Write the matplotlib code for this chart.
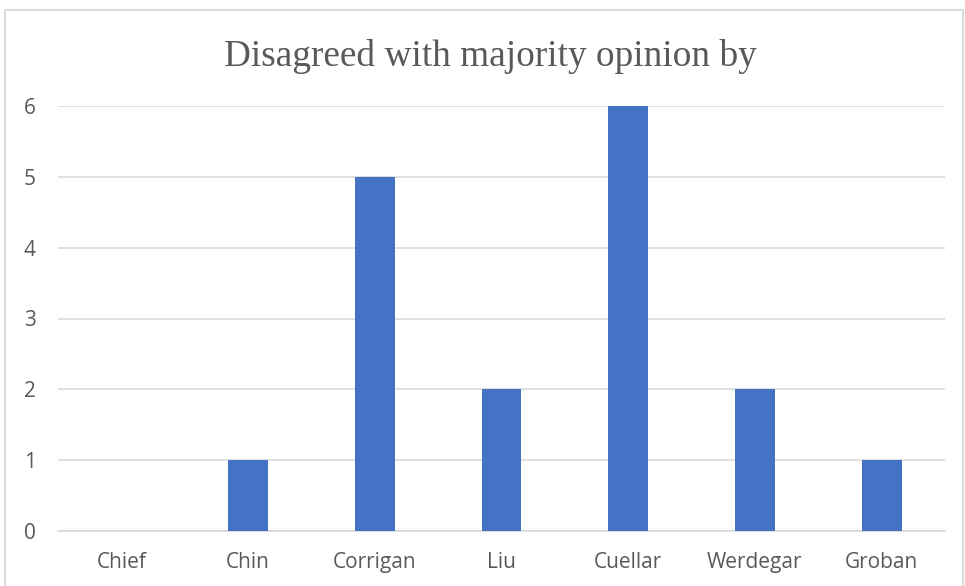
import matplotlib.pyplot as plt
from matplotlib.patches import Rectangle

justices = ['Chief', 'Chin', 'Corrigan', 'Liu', 'Cuellar', 'Werdegar', 'Groban']
dissents = [0, 1, 5, 2, 6, 2, 1]
yticks = [0, 1, 2, 3, 4, 5, 6]

W, H = 965, 586
fig = plt.figure(figsize=(W / 100, H / 100), dpi=100)

# chart frame
fig.patches.append(Rectangle((5 / W, -0.05), 958 / W, 1.05 - 10 / H,
                             transform=fig.transFigure, fill=False,
                             edgecolor='#D9D9D9', linewidth=1.3))

ax = fig.add_axes([58 / W, 1 - 531 / H, (945 - 58) / W, (531 - 106) / H])
x = list(range(len(justices)))
ax.bar(x, dissents, width=0.315, color='#4472C4', zorder=3)

ax.set_xlim(-0.5, len(justices) - 0.5)
ax.set_ylim(0, 6)
ax.set_yticks(yticks)
ax.set_xticks(x)
ax.set_xticklabels(justices)
ax.grid(axis='y', color='#D9D9D9', linewidth=1.2, zorder=0)
ax.tick_params(length=0, labelsize=15, labelcolor='#595959')
ax.tick_params(axis='x', pad=15)
ax.tick_params(axis='y', pad=16)
for lbl in ax.get_xticklabels() + ax.get_yticklabels():
    lbl.set_fontfamily('Open Sans')
for side in ['top', 'right', 'left']:
    ax.spines[side].set_visible(False)
ax.spines['bottom'].set_color('#D9D9D9')
ax.spines['bottom'].set_linewidth(1.2)

fig.text(490 / W, 1 - 56 / H, 'Disagreed with majority opinion by',
         ha='center', va='center', fontsize=26.8, color='#595959',
         family='Liberation Serif')

fig.savefig('out.png', dpi=100)
